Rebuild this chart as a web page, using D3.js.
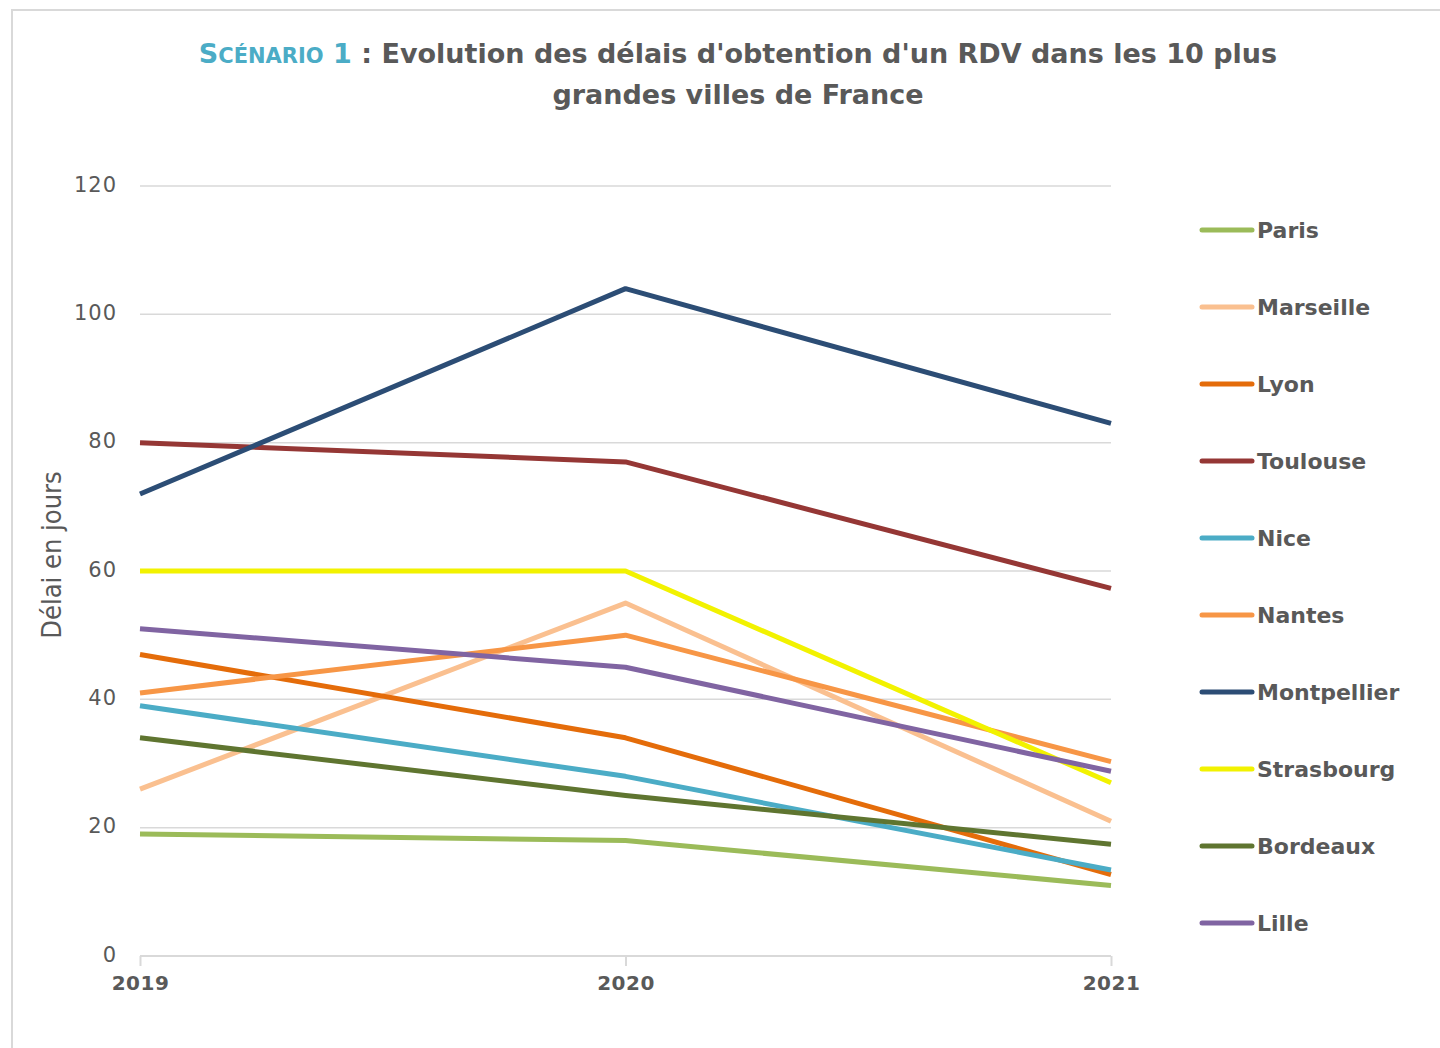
<!DOCTYPE html>
<html>
<head>
<meta charset="utf-8">
<script src="https://cdn.jsdelivr.net/npm/d3@7"></script>
<style>
  body { margin: 0; background: #fff; }
  svg { display: block; }
  text { font-family: "DejaVu Sans", Verdana, sans-serif; }
</style>
</head>
<body>
<svg id="chart"></svg>
<script>
const years = ['2019', '2020', '2021'];
const cities = ['Paris', 'Marseille', 'Lyon', 'Toulouse', 'Nice', 'Nantes', 'Montpellier', 'Strasbourg', 'Bordeaux', 'Lille'];
const paris = [19, 18, 11];
const marseille = [26, 55, 21];
const lyon = [47, 34, 12.7];
const toulouse = [80, 77, 57.3];
const nice = [39, 28, 13.4];
const nantes = [41, 50, 30.3];
const montpellier = [72, 104, 83];
const strasbourg = [60, 60, 27];
const bordeaux = [34, 25, 17.4];
const lille = [51, 45, 28.8];
const yTicks = [0, 20, 40, 60, 80, 100, 120];
const colors = ['#9bbb59', '#fac090', '#e46c0a', '#953735', '#4bacc6', '#f79646', '#2c4d75', '#f2f200', '#5f7530', '#8064a2'];

const series = [paris, marseille, lyon, toulouse, nice, nantes, montpellier, strasbourg, bordeaux, lille]
    .map((values, i) => ({name: cities[i], color: colors[i], values: values}));

const width = 1440, height = 1048;
const plotLeft = 140, plotRight = 1111, plotTop = 186, plotBottom = 956;

let svg = d3.select('#chart')
    .attr('width', width)
    .attr('height', height);

// chart frame
svg.append('rect')
    .attr('x', 12).attr('y', 10)
    .attr('width', 1460).attr('height', 1060)
    .attr('fill', 'none')
    .attr('stroke', '#d9d9d9')
    .attr('stroke-width', 2);

let x = d3.scalePoint().domain(years).range([plotLeft, plotRight]);
let y = d3.scaleLinear().domain([0, 120]).range([plotBottom, plotTop]);

// gridlines
svg.append('g')
    .selectAll('line')
    .data(yTicks.filter(d => d > 0))
    .enter().append('line')
    .attr('x1', plotLeft).attr('x2', plotRight)
    .attr('y1', d => y(d)).attr('y2', d => y(d))
    .attr('stroke', '#d9d9d9')
    .attr('stroke-width', 1.5);

// y axis labels
let yAxis = svg.append('g')
    .attr('transform', `translate(${plotLeft}, 0)`)
    .call(d3.axisLeft(y).tickValues(yTicks).tickSize(0).tickPadding(23));
yAxis.select('.domain').remove();
yAxis.selectAll('text')
    .attr('fill', '#595959')
    .style('font-size', '21px')
    .style('letter-spacing', '1px')
    .attr('dy', '0.25em');

// x axis
let xAxis = svg.append('g')
    .attr('transform', `translate(0, ${plotBottom})`)
    .call(d3.axisBottom(x).tickSize(10).tickPadding(10));
xAxis.select('.domain')
    .attr('stroke', '#d9d9d9')
    .attr('stroke-width', 2)
    .attr('d', `M${plotLeft},0H${plotRight}`);
xAxis.selectAll('.tick line')
    .attr('stroke', '#d9d9d9')
    .attr('stroke-width', 2);
xAxis.selectAll('text')
    .attr('fill', '#595959')
    .style('font-size', '20px')
    .style('font-weight', 'bold')
    .style('letter-spacing', '0.5px');

// y axis title
svg.append('text')
    .attr('transform', 'translate(61, 555) rotate(-90)')
    .attr('text-anchor', 'middle')
    .attr('fill', '#595959')
    .style('font-family', '"DejaVu Sans Condensed", "DejaVu Sans", sans-serif')
    .style('font-size', '27px')
    .text('Délai en jours');

// lines
let line = d3.line()
    .x((d, i) => x(years[i]))
    .y(d => y(d));

svg.append('g')
    .selectAll('path')
    .data(series)
    .enter().append('path')
    .attr('d', d => line(d.values))
    .attr('fill', 'none')
    .attr('stroke', d => d.color)
    .attr('stroke-width', 5)
    .attr('stroke-linejoin', 'round');

// legend
let legend = svg.append('g')
    .selectAll('g')
    .data(series)
    .enter().append('g')
    .attr('transform', (d, i) => `translate(1200, ${230 + i * 77})`);

legend.append('line')
    .attr('x1', 2).attr('x2', 52)
    .attr('stroke', d => d.color)
    .attr('stroke-width', 5)
    .attr('stroke-linecap', 'round');

legend.append('text')
    .attr('x', 57)
    .attr('dy', '0.36em')
    .attr('fill', '#595959')
    .style('font-size', '22px')
    .style('font-weight', 'bold')
    .text(d => d.name);

// title
let title = svg.append('text')
    .attr('x', 738)
    .attr('y', 63)
    .attr('text-anchor', 'middle')
    .style('font-size', '27px')
    .style('font-weight', 'bold');
title.append('tspan')
    .attr('fill', '#4bacc6')
    .text('S');
title.append('tspan')
    .attr('fill', '#4bacc6')
    .style('font-size', '21px')
    .text('CÉNARIO');
title.append('tspan')
    .attr('fill', '#4bacc6')
    .text(' 1');
title.append('tspan')
    .attr('fill', '#595959')
    .text(" : Evolution des délais d'obtention d'un RDV dans les 10 plus");

svg.append('text')
    .attr('x', 738)
    .attr('y', 104)
    .attr('text-anchor', 'middle')
    .attr('fill', '#595959')
    .style('font-size', '27px')
    .style('font-weight', 'bold')
    .text('grandes villes de France');
</script>
</body>
</html>
